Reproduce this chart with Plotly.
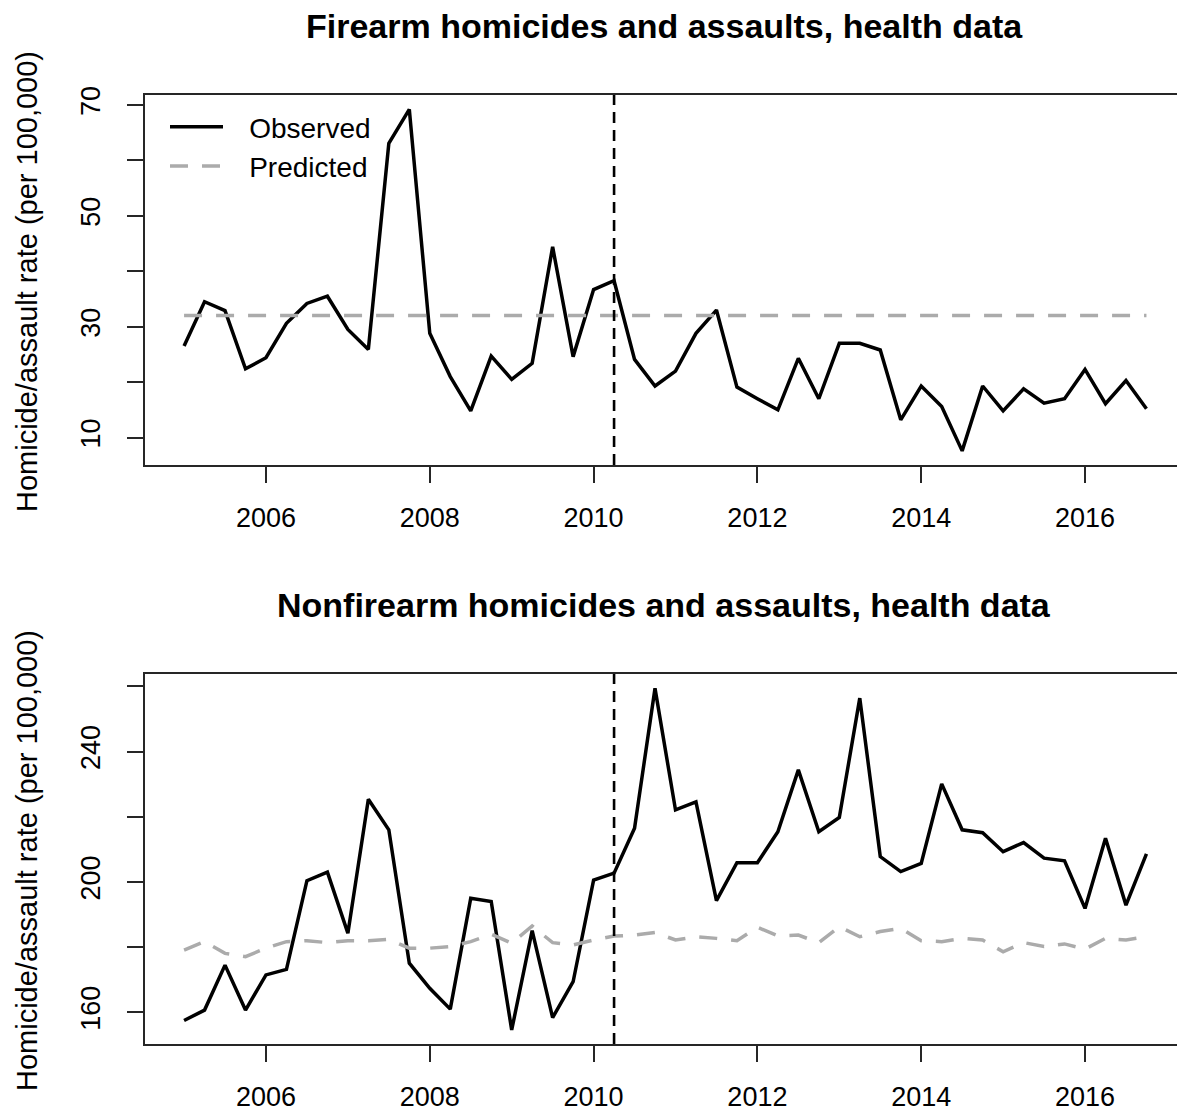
import plotly.graph_objects as go

# Quarterly time points (decimal years)
quarters = [
    2005.00, 2005.25, 2005.50, 2005.75, 2006.00, 2006.25, 2006.50, 2006.75,
    2007.00, 2007.25, 2007.50, 2007.75, 2008.00, 2008.25, 2008.50, 2008.75,
    2009.00, 2009.25, 2009.50, 2009.75, 2010.00, 2010.25, 2010.50, 2010.75,
    2011.00, 2011.25, 2011.50, 2011.75, 2012.00, 2012.25, 2012.50, 2012.75,
    2013.00, 2013.25, 2013.50, 2013.75, 2014.00, 2014.25, 2014.50, 2014.75,
    2015.00, 2015.25, 2015.50, 2015.75, 2016.00, 2016.25, 2016.50, 2016.75,
]

# Firearm homicides and assaults (per 100,000)
firearm_observed = [
    26.5, 34.5, 32.9, 22.4, 24.4, 30.6, 34.2, 35.5, 29.5, 25.9,
    63.1, 69.2, 28.8, 21.0, 14.8, 24.7, 20.5, 23.4, 44.4, 24.6,
    36.7, 38.3, 24.1, 19.3, 22.0, 28.8, 33.0, 19.1, 17.0, 15.0,
    24.3, 17.0, 27.0, 27.0, 25.8, 13.2, 19.3, 15.6, 7.6, 19.3,
    14.8, 18.8, 16.2, 17.0, 22.3, 16.1, 20.3, 15.2,
]
firearm_predicted = [
    32.0, 32.0, 32.0, 32.0, 32.0, 32.0, 32.0, 32.0, 32.0, 32.0,
    32.0, 32.0, 32.0, 32.0, 32.0, 32.0, 32.0, 32.0, 32.0, 32.0,
    32.0, 32.0, 32.0, 32.0, 32.0, 32.0, 32.0, 32.0, 32.0, 32.0,
    32.0, 32.0, 32.0, 32.0, 32.0, 32.0, 32.0, 32.0, 32.0, 32.0,
    32.0, 32.0, 32.0, 32.0, 32.0, 32.0, 32.0, 32.0,
]

# Nonfirearm homicides and assaults (per 100,000)
nonfirearm_observed = [
    157.5, 160.7, 174.5, 160.7, 171.5, 173.2, 200.4, 203.0, 184.3, 225.4,
    216.0, 175.1, 167.4, 161.0, 195.0, 194.0, 154.6, 185.1, 158.4, 169.4,
    200.6, 202.7, 216.5, 259.4, 222.1, 224.6, 194.3, 205.9, 205.9, 215.4,
    234.4, 215.4, 219.8, 256.4, 207.8, 203.2, 205.7, 230.1, 216.0, 215.1,
    209.3, 212.1, 207.3, 206.5, 191.9, 213.4, 192.9, 208.6,
]
nonfirearm_predicted = [
    179.1, 181.7, 178.1, 177.1, 179.7, 181.7, 182.0, 181.4, 182.0, 182.0,
    182.4, 179.7, 179.7, 180.2, 181.7, 184.0, 181.2, 186.5, 181.4, 180.7,
    182.2, 183.4, 183.7, 184.5, 182.2, 183.2, 182.7, 182.0, 186.1, 183.5,
    183.7, 181.4, 186.3, 183.2, 184.8, 185.8, 182.0, 181.7, 182.7, 182.2,
    178.6, 181.4, 180.2, 181.0, 179.4, 182.7, 182.2, 183.2,
]

# Policy change date (vertical reference line)
intervention = 2010.25

x_tickvals = [2006, 2008, 2010, 2012, 2014, 2016]
x_ticktext = ["2006", "2008", "2010", "2012", "2014", "2016"]
top_tickvals = [10, 20, 30, 40, 50, 60, 70]
top_ticktext = ["10", "", "30", "", "50", "", "70"]
bottom_tickvals = [160, 180, 200, 220, 240, 260]
bottom_ticktext = ["160", "", "200", "", "240", ""]

titles = [
    "Firearm homicides and assaults, health data",
    "Nonfirearm homicides and assaults, health data",
]
y_title = "Homicide/assault rate (per 100,000)"
legend_names = ["Observed", "Predicted"]

FONT = "Liberation Sans, Arial, sans-serif"
W, H = 1177, 1113
AX = "#262626"
GREY = "#ABABAB"
LW = 3.5
PAD = "\u00a0\u00a0\u2009"  # gap between legend key and its label

fig = go.Figure()

fig.add_trace(go.Scatter(
    x=quarters, y=firearm_observed, mode="lines", name=PAD + legend_names[0],
    line=dict(color="black", width=LW), xaxis="x", yaxis="y",
))
fig.add_trace(go.Scatter(
    x=quarters, y=firearm_predicted, mode="lines", name=PAD + legend_names[1],
    line=dict(color=GREY, width=LW, dash="18px,14px"), xaxis="x", yaxis="y",
))
fig.add_trace(go.Scatter(
    x=quarters, y=nonfirearm_observed, mode="lines", name=legend_names[0],
    line=dict(color="black", width=LW), xaxis="x2", yaxis="y2", showlegend=False,
))
fig.add_trace(go.Scatter(
    x=quarters, y=nonfirearm_predicted, mode="lines", name=legend_names[1],
    line=dict(color=GREY, width=LW, dash="18px,14px"), xaxis="x2", yaxis="y2",
    showlegend=False,
))

# Panel geometry in pixels
left_px = 145
top_panel = (95, 465)
bottom_panel = (674, 1044)


def ydom(p):
    return [1 - p[1] / H, 1 - p[0] / H]


xdom = [left_px / W, 1.0]
xrange_ = [2004.523, 2017.123]

common_x = dict(
    domain=xdom, range=xrange_, tickvals=x_tickvals, ticktext=x_ticktext,
    showline=True, linecolor=AX, linewidth=1.5, mirror=True,
    ticks="outside", ticklen=16, tickwidth=1.5, tickcolor=AX,
    showgrid=False, zeroline=False, automargin=False,
    tickfont=dict(family=FONT, size=27, color="black"),
    ticklabelstandoff=12,
)
common_y = dict(
    showline=True, linecolor=AX, linewidth=1.5, mirror=False,
    ticks="outside", ticklen=16, tickwidth=1.5, tickcolor=AX,
    showgrid=False, zeroline=False, automargin=False,
    tickangle=-90,
    tickfont=dict(family=FONT, size=27, color="black"),
    ticklabelstandoff=16,
)

fig.update_layout(
    width=W, height=H,
    margin=dict(l=0, r=0, t=0, b=0),
    paper_bgcolor="white", plot_bgcolor="white",
    xaxis=dict(anchor="y", **common_x),
    yaxis=dict(anchor="x", domain=ydom(top_panel), range=[5.05, 71.8],
               tickvals=top_tickvals, ticktext=top_ticktext, **common_y),
    xaxis2=dict(anchor="y2", **common_x),
    yaxis2=dict(anchor="x2", domain=ydom(bottom_panel), range=[150.3, 263.8],
                tickvals=bottom_tickvals, ticktext=bottom_ticktext, **common_y),
    showlegend=True,
    legend=dict(
        x=165 / W, y=1 - 102 / H, xanchor="left", yanchor="top",
        bgcolor="rgba(0,0,0,0)", borderwidth=0,
        font=dict(family=FONT, size=28, color="black"),
        itemwidth=53,
    ),
)

# Vertical reference line at the intervention date in both panels
for xref, yref in (("x", "y domain"), ("x2", "y2 domain")):
    fig.add_shape(
        type="line", xref=xref, yref=yref,
        x0=intervention, x1=intervention, y0=0, y1=1,
        line=dict(color="black", width=2.6, dash="11px,7px"),
    )

# Panel titles and y-axis titles
for title, panel in zip(titles, (top_panel, bottom_panel)):
    fig.add_annotation(
        text=f"<b>{title}</b>", xref="paper", yref="paper",
        x=664 / W, y=1 - (panel[0] - 69) / H, xanchor="center", yanchor="middle",
        showarrow=False, font=dict(family=FONT, size=34, color="black"),
    )
    fig.add_annotation(
        text=y_title, xref="paper", yref="paper", textangle=-90,
        x=27 / W, y=1 - ((panel[0] + panel[1]) / 2 + 2) / H,
        xanchor="center", yanchor="middle", showarrow=False,
        font=dict(family=FONT, size=29, color="black"),
    )

fig.write_html("out.html")
